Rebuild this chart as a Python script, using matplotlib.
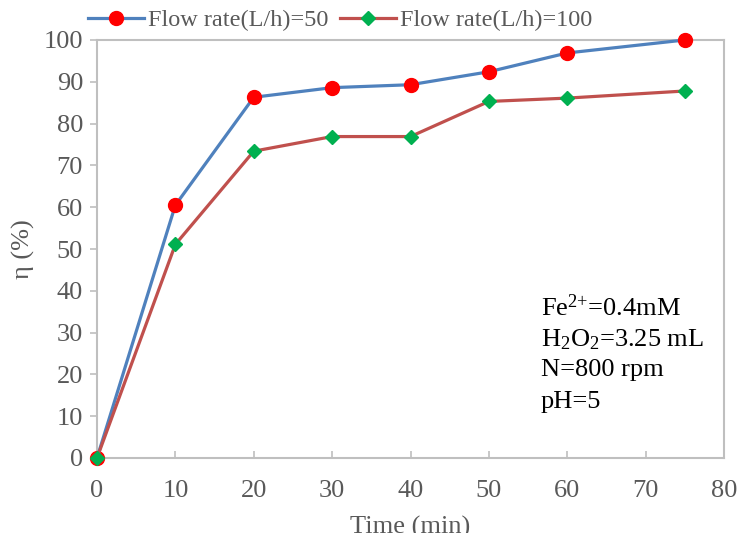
import matplotlib
matplotlib.use('Agg')
import matplotlib.pyplot as plt

plt.rcParams['font.family'] = ['Liberation Serif', 'DejaVu Serif']
plt.rcParams['mathtext.fontset'] = 'custom'
plt.rcParams['mathtext.rm'] = 'Liberation Serif'
plt.rcParams['mathtext.it'] = 'Liberation Serif'

# data
time = [0, 10, 20, 30, 40, 50, 60, 75]
eta_50 = [0, 60.5, 86.3, 88.6, 89.3, 92.4, 96.9, 100]
eta_100 = [0, 51.1, 73.4, 76.9, 76.9, 85.3, 86.1, 87.8]
labels = ['Flow rate(L/h)=50', 'Flow rate(L/h)=100']
notes = [r'Fe$^{2{+}}$=0.4mM', r'H$_2$O$_2$=3.25 mL', 'N=800 rpm', 'pH=5']

grey = '#595959'
spine_c = '#BFBFBF'

fig = plt.figure(figsize=(7.39, 5.33), dpi=100)
ax = fig.add_axes([97/739, 75/533, 627/739, 418/533])

ax.plot(time, eta_50, color='#4F81BD', lw=2.3, marker='o', ms=10,
        mfc='#FF0000', mec='#FF0000', label=labels[0], clip_on=False, zorder=3)
ax.plot(time, eta_100, color='#C0504D', lw=2.3, marker='D', ms=7.5,
        mfc='#00B050', mec='#00B050', label=labels[1], clip_on=False, zorder=4)

ax.set_xlim(0, 80)
ax.set_ylim(0, 100)
ax.set_xticks(range(0, 81, 10))
ax.set_yticks(range(0, 101, 10))
ax.tick_params(axis='x', direction='in', length=5, color=spine_c, width=1.2,
               labelsize=19, labelcolor=grey, pad=16)
ax.tick_params(axis='y', direction='out', length=5, color=spine_c, width=1.2,
               labelsize=19, labelcolor=grey, pad=5)
for s in ax.spines.values():
    s.set_color(spine_c)
    s.set_linewidth(1.5)

ax.set_xlabel('Time (min)', fontsize=19, color=grey, labelpad=10)
ax.set_ylabel('η (%)', fontsize=19, color=grey, labelpad=6)

ys = [0.359, 0.282, 0.211, 0.134]
for t, y in zip(notes, ys):
    ax.text(0.708, y, t, transform=ax.transAxes, fontsize=19, color='black',
            va='center', ha='left')

fig.legend(loc='center left', bbox_to_anchor=(88/739, 1 - 20/533), ncol=2,
           frameon=False, fontsize=17.5, labelcolor=grey, handlelength=2.3,
           handletextpad=0.15, columnspacing=0.5, borderpad=0, borderaxespad=0)

fig.savefig('out.png', dpi=100)
